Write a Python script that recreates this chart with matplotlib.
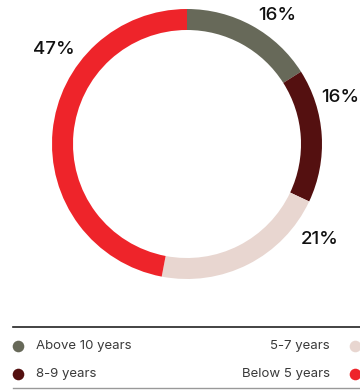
import matplotlib
matplotlib.use("Agg")
import matplotlib.pyplot as plt

categories = ["Above 10 years", "8-9 years", "5-7 years", "Below 5 years"]
values = [16, 16, 21, 47]
colors = ["#676959", "#541010", "#E8D6D0", "#EE242A"]
label_pos = [(277, 374), (340, 293), (320, 150), (54, 340)]

plt.rcParams['font.family'] = ['Inter', 'DejaVu Sans']

fig = plt.figure(figsize=(3.6, 3.9), dpi=100)
ax = fig.add_axes([0, 0, 1, 1])
ax.set_xlim(0, 360)
ax.set_ylim(0, 390)
ax.set_aspect('equal')
ax.axis('off')

ax.pie(values, colors=colors, startangle=90, counterclock=False,
       center=(187, 246), radius=135,
       wedgeprops=dict(width=21, linewidth=0))
ax.set_xlim(0, 360)
ax.set_ylim(0, 390)

for v, (x, y) in zip(values, label_pos):
    ax.text(x, y, f"{v}%", ha='center', va='center', fontsize=13.5,
            fontweight='medium', color='#111111')

# legend
ax.plot([13, 360], [63, 63], color='#222222', lw=1.2)
ax.plot([13, 360], [2, 2], color='#999999', lw=1)
ax.scatter([18], [44], s=70, color=colors[0], linewidths=0)
ax.text(36, 44, categories[0], ha='left', va='center', fontsize=9.5, color='#3a3a3a')
ax.scatter([18], [16], s=70, color=colors[1], linewidths=0)
ax.text(36, 16, categories[1], ha='left', va='center', fontsize=9.5, color='#3a3a3a')
ax.scatter([355], [44], s=70, color=colors[2], linewidths=0)
ax.text(330, 44, categories[2], ha='right', va='center', fontsize=9.5, color='#3a3a3a')
ax.scatter([355], [16], s=70, color=colors[3], linewidths=0)
ax.text(330, 16, categories[3], ha='right', va='center', fontsize=9.5, color='#3a3a3a')

fig.savefig("out.png", dpi=100)
